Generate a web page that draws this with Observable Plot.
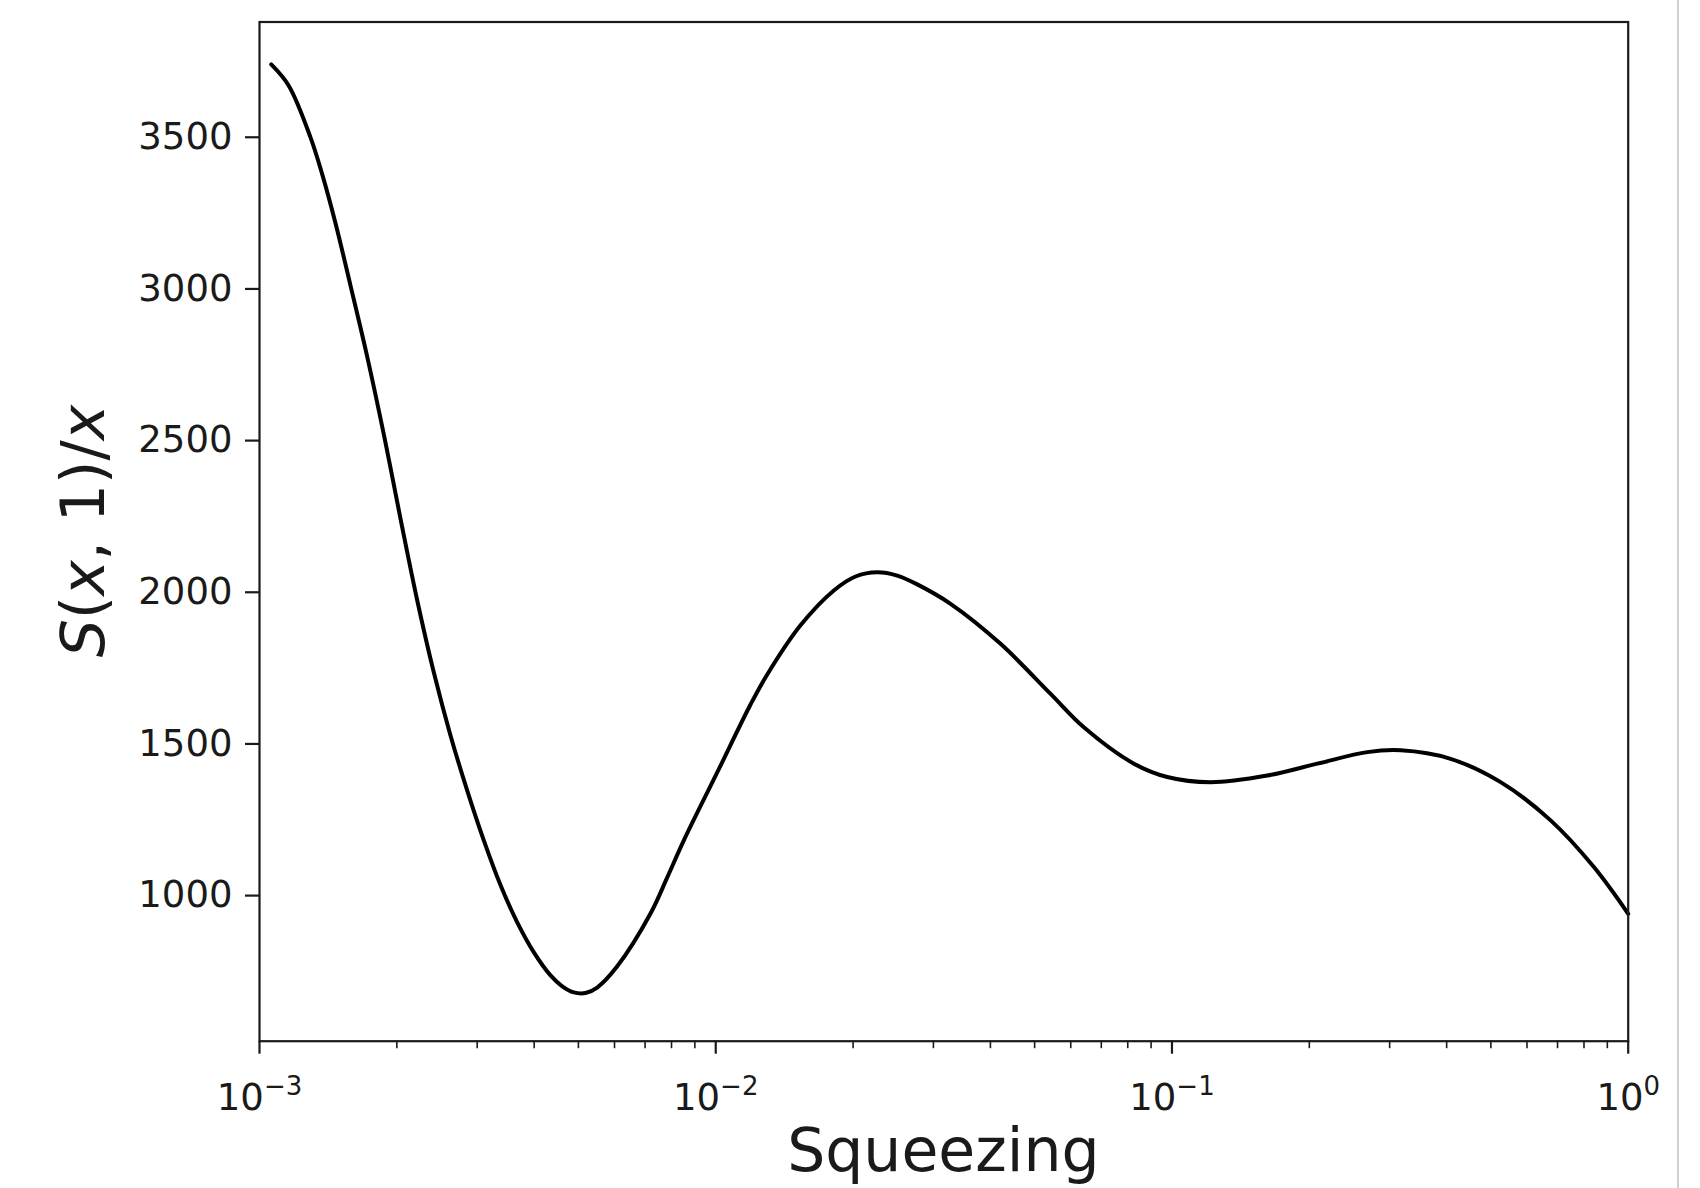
<!DOCTYPE html>
<html>
<head>
<meta charset="utf-8">
<script src="https://cdn.jsdelivr.net/npm/d3@7"></script>
<script src="https://cdn.jsdelivr.net/npm/@observablehq/plot@0.6"></script>
<style>
  html, body { margin: 0; padding: 0; background: #fff; }
  #chart { position: relative; width: 1700px; height: 1188px; overflow: hidden; background: #fff; }
  #chart svg { position: absolute; left: 0; top: 0; z-index: 0; }
  #edge { position: absolute; left: 1677px; top: 0; width: 1.5px; height: 1188px; background: #cfcfcf; z-index: 1; }
</style>
</head>
<body>
<div id="chart"><div id="edge"></div></div>
<script>
// Squeezing parameter x (log scale) and the ratio S(x, 1)/x
const squeezing = [
  0.001061, 0.001159, 0.001294, 0.001373, 0.001468, 0.001583, 0.001722, 0.001879,
  0.002037, 0.002217, 0.002410, 0.002622, 0.002852, 0.003102, 0.003376, 0.003672,
  0.003994, 0.004344, 0.004609, 0.004886, 0.005183, 0.005497, 0.006083, 0.007195,
  0.007830, 0.008513, 0.010076, 0.01192, 0.01297, 0.01534, 0.01815, 0.02025, 0.02259,
  0.02499, 0.02765, 0.03271, 0.04210, 0.05420, 0.06410, 0.08251, 0.09766,
  0.1215, 0.1618, 0.2083, 0.2680, 0.3171, 0.4080, 0.5253, 0.6761, 0.8410, 1.0
];
const ratio = [
  3740, 3670, 3499, 3377, 3216, 3011, 2777, 2510,
  2243, 1973, 1736, 1528, 1347, 1182, 1034, 912,
  813, 737, 701, 681, 679, 697, 767, 941,
  1060, 1182, 1406, 1630, 1729, 1891, 2006, 2052, 2066,
  2055, 2026, 1962, 1830, 1665, 1555, 1435, 1391,
  1374, 1396, 1435, 1473, 1479, 1451, 1374, 1248, 1094, 940
];

// Axis ticks
const yTicks = [1000, 1500, 2000, 2500, 3000, 3500];
const xMajorTicks = [1e-3, 1e-2, 1e-1, 1];
const xTickExponents = ["\u22123", "\u22122", "\u22121", "0"];
const xMinorTicks = [
  2e-3, 3e-3, 4e-3, 5e-3, 6e-3, 7e-3, 8e-3, 9e-3,
  2e-2, 3e-2, 4e-2, 5e-2, 6e-2, 7e-2, 8e-2, 9e-2,
  2e-1, 3e-1, 4e-1, 5e-1, 6e-1, 7e-1, 8e-1, 9e-1
];

const xLabel = "Squeezing";

const points = squeezing.map((x, i) => ({x, y: ratio[i]}));

const W = 1700, H = 1188;
const M = {left: 259, right: 72.3, top: 21.5, bottom: 147.3};

const svgNode = Plot.plot({
  width: W,
  height: H,
  marginLeft: M.left,
  marginRight: M.right,
  marginTop: M.top,
  marginBottom: M.bottom,
  style: {
    fontFamily: "DejaVu Sans",
    fontSize: "37px",
    color: "#1a1a1a",
    background: "transparent",
    overflow: "visible"
  },
  x: {type: "log", domain: [1e-3, 1], label: null},
  y: {domain: [520, 3880], label: null},
  marks: [
    Plot.line(points, {x: "x", y: "y", stroke: "#000", strokeWidth: 4, curve: "catmull-rom"}),
    Plot.frame({stroke: "#1a1a1a", strokeWidth: 2.2}),
    Plot.axisX({ticks: xMinorTicks, tickSize: 7.5, strokeWidth: 1.6, tickFormat: () => "", label: null}),
    Plot.axisX({
      ticks: xMajorTicks,
      tickSize: 13,
      strokeWidth: 2.2,
      tickPadding: 30,
      tickFormat: d => "10|" + xTickExponents[xMajorTicks.indexOf(d)],
      label: null
    }),
    Plot.axisY({
      ticks: yTicks,
      tickSize: 14,
      strokeWidth: 2.2,
      tickPadding: 13,
      tickFormat: d => String(d),
      label: null
    })
  ]
});

const svg = d3.select(svgNode);

// Power-of-ten tick labels: base plus raised exponent
svg.selectAll('g[aria-label="x-axis tick label"] text').each(function () {
  const t = d3.select(this);
  const parts = t.text().split("|");
  if (parts.length !== 2) return;
  t.text(null);
  t.append("tspan").text(parts[0]);
  t.append("tspan").attr("dy", -15).attr("font-size", "26px").text(parts[1]);
});

// Axis titles
svg.append("text")
  .attr("x", (M.left + W - M.right) / 2)
  .attr("y", 1171)
  .attr("text-anchor", "middle")
  .attr("font-family", "DejaVu Sans")
  .attr("font-size", 60)
  .attr("fill", "#1a1a1a")
  .text(xLabel);

svg.append("text")
  .attr("transform", `translate(104,${(M.top + H - M.bottom) / 2}) rotate(-90)`)
  .attr("text-anchor", "middle")
  .attr("font-family", "DejaVu Sans")
  .attr("font-size", 60)
  .attr("fill", "#1a1a1a")
  .html('<tspan font-style="italic">S</tspan>(<tspan font-style="italic">x</tspan>, 1)/<tspan font-style="italic">x</tspan>');

document.getElementById("chart").insertBefore(svgNode, document.getElementById("edge"));
</script>
</body>
</html>
